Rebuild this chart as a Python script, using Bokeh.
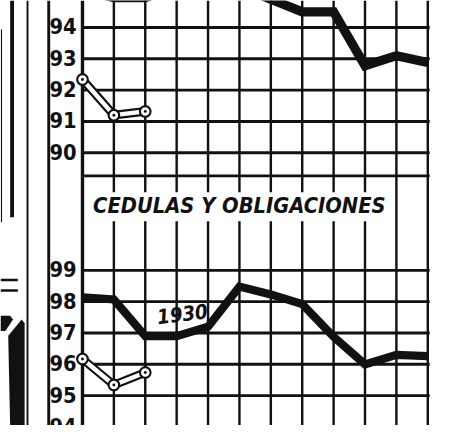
from bokeh.plotting import figure
from bokeh.models import Range1d
from bokeh.core.properties import value
from bokeh.embed import file_html
from bokeh.resources import INLINE

# ---------------- data ----------------
meses = ["Ene", "Feb", "Mar", "Abr", "May", "Jun", "Jul", "Ago", "Sep", "Oct", "Nov", "Dic"]
# upper panel (its title is cut off above the picture)
superior_1930 = [95.2, 94.95, 94.95, 95.3, 95.4, 95.3, 94.9, 94.5, 94.5, 92.78, 93.1, 92.88]
superior_1931 = [92.34, 91.2, 91.32]
# lower panel: CEDULAS Y OBLIGACIONES
cedulas_1930 = [98.14, 98.07, 96.9, 96.9, 97.2, 98.48, 98.23, 97.92, 96.88, 96.0, 96.3, 96.26]
cedulas_1931 = [96.17, 95.34, 95.74]
ticks_superior = [94, 93, 92, 91, 90]
ticks_inferior = [99, 98, 97, 96, 95, 94]
titulo = "CEDULAS Y OBLIGACIONES"
etiqueta_1930 = "1930"

# ---------------- layout (reference picture pixels) ----------------
REF_W, REF_H = 450, 441
W, H = 434, 425
S = W / REF_W
X0, DX = 85.0, 32.55              # px of first month column, px per month
TOP_REF_V, TOP_REF_Y = 94, 28.0   # upper panel: value 94 at px 28
BOT_REF_V, BOT_REF_Y = 99, 280.0  # lower panel: value 99 at px 280
DY = 32.5                         # px per point

FONT = value("DejaVu Sans Condensed, Roboto, sans-serif")

idx = list(range(len(meses)))
n = len(idx)

x_range = Range1d(-X0 / DX, (REF_W - X0) / DX)
y_top = Range1d(TOP_REF_V - (REF_H - TOP_REF_Y) / DY, TOP_REF_V + TOP_REF_Y / DY)
y_bot = Range1d(BOT_REF_V - (REF_H - BOT_REF_Y) / DY, BOT_REF_V + BOT_REF_Y / DY)

p = figure(width=W, height=H, output_backend="svg", toolbar_location=None,
           x_range=x_range, y_range=y_top,
           x_axis_location=None, y_axis_location=None,
           min_border=0, outline_line_color=None,
           background_fill_color="white", border_fill_color="white")
p.extra_y_ranges = {"bot": y_bot, "px": Range1d(REF_H, 0)}
p.extra_x_ranges = {"px": Range1d(0, REF_W)}
p.grid.visible = False

INK = "#111111"

# ---- left-side scan remains (other newspaper columns) ----
p.segment(x0=[1, 12, 28, 50], y0=[30, 0, 0, 0], x1=[1, 12, 28, 50], y1=[230, 225, REF_H, REF_H],
          x_range_name="px", y_range_name="px", line_color=INK,
          line_width=[1.2 * S, 4 * S, 2 * S, 3 * S])
p.segment(x0=[0, 0], y0=[290, 301], x1=[18, 18], y1=[290, 301],
          x_range_name="px", y_range_name="px", line_color=INK, line_width=2.5 * S)
p.patch(x=[0, 10, 13, 5, 0], y=[327, 327, 331, 343, 343],
        x_range_name="px", y_range_name="px", fill_color=INK, line_color=None)
p.patch(x=[22, 25, 25, 10, 8], y=[331, 335, REF_H, REF_H, 348],
        x_range_name="px", y_range_name="px", fill_color=INK, line_color=None)

# ---- grid ----
last = idx[-1] + 0.06
p.segment(x0=idx[1:], y0=[0] * (n - 1), x1=idx[1:], y1=[REF_H] * (n - 1),
          y_range_name="px", line_color=INK, line_width=2.5 * S)
p.segment(x0=[idx[0]], y0=[0], x1=[idx[0]], y1=[REF_H],
          y_range_name="px", line_color=INK, line_width=3.5 * S)
p.segment(x0=[idx[0]] * len(ticks_superior), y0=ticks_superior,
          x1=[last] * len(ticks_superior), y1=ticks_superior,
          line_color=INK, line_width=3 * S)
p.segment(x0=[idx[0]], y0=[182], x1=[last], y1=[182],
          y_range_name="px", line_color=INK, line_width=3 * S)
p.segment(x0=[idx[0]] * len(ticks_inferior), y0=ticks_inferior,
          x1=[last] * len(ticks_inferior), y1=ticks_inferior,
          y_range_name="bot", line_color=INK, line_width=3 * S)

# ---- title with white ground ----
p.quad(left=[88], right=[398], top=[199], bottom=[229],
       x_range_name="px", y_range_name="px", fill_color="white", line_color=None)
p.text(x=[96], y=[213], text=[titulo], x_range_name="px", y_range_name="px",
       text_font=FONT, text_font_style="bold italic",
       text_font_size=f"{22.5 * S:.1f}px", text_align="left", text_baseline="middle",
       text_color=INK)

# ---- tick labels ----
p.text(x=[79] * len(ticks_superior), y=ticks_superior, text=[str(t) for t in ticks_superior],
       x_range_name="px", text_font=FONT, text_font_style="bold",
       text_font_size=f"{22.5 * S:.1f}px", text_align="right", text_baseline="alphabetic",
       y_offset=-1, text_color=INK)
p.text(x=[79] * len(ticks_inferior), y=ticks_inferior, text=[str(t) for t in ticks_inferior],
       x_range_name="px", y_range_name="bot", text_font=FONT, text_font_style="bold",
       text_font_size=f"{22.5 * S:.1f}px", text_align="right", text_baseline="alphabetic",
       y_offset=-1, text_color=INK)

# ---- series ----
p.line(idx, superior_1930, line_color=INK, line_width=9.5 * S, line_join="miter")
p.line(idx, cedulas_1930, y_range_name="bot", line_color=INK, line_width=8.5 * S, line_join="miter")

for ys, rng in ((superior_1931, "default"), (cedulas_1931, "bot")):
    xs = idx[:len(ys)]
    p.line(xs, ys, y_range_name=rng, line_color=INK, line_width=9 * S)
    p.line(xs, ys, y_range_name=rng, line_color="white", line_width=4.5 * S)
    p.scatter(xs, ys, y_range_name=rng, size=11 * S, fill_color="white",
              line_color=INK, line_width=2.2 * S)
    p.scatter(xs, ys, y_range_name=rng, size=3 * S, fill_color=INK, line_color=None)

p.text(x=[2.38], y=[97.5], text=[etiqueta_1930], y_range_name="bot", angle=0.12,
       text_font=FONT, text_font_style="bold italic",
       text_font_size=f"{21 * S:.1f}px", text_align="left", text_baseline="middle",
       text_color=INK)

open("out.html", "w").write(file_html(p, INLINE))
